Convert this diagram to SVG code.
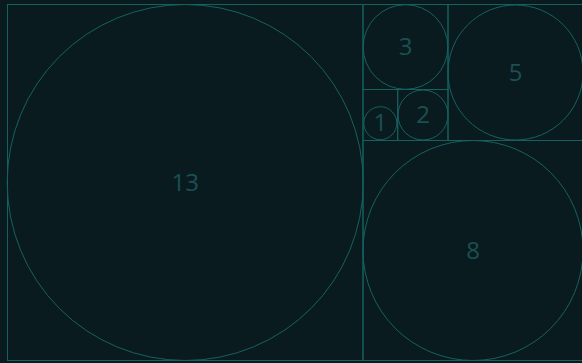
<svg xmlns="http://www.w3.org/2000/svg" width="582" height="363" viewBox="0 0 582 363">
<style>
.sq{fill:none;stroke:#15615f;stroke-width:1}
.ci{fill:none;stroke:#15615f;stroke-width:1}
.lb{font-family:"Open Sans","Noto Sans",sans-serif;font-size:24px;fill:#1a5052;text-anchor:middle}
</style>
<rect width="582" height="363" fill="#0a1b1f"/>
<g id="n13"><rect class="sq" x="7.5" y="4.5" width="355.5" height="356"/><circle class="ci" cx="185.2" cy="182.5" r="178"/><text class="lb" x="185.2" y="190.5">13</text></g>
<g id="n8"><rect class="sq" x="363" y="140.5" width="220" height="220"/><circle class="ci" cx="473" cy="250.5" r="110"/><text class="lb" x="473" y="258.5">8</text></g>
<g id="n5"><rect class="sq" x="448" y="4.5" width="135" height="136"/><circle class="ci" cx="515.5" cy="72.5" r="67.5"/><text class="lb" x="515.5" y="80.5">5</text></g>
<g id="n3"><rect class="sq" x="363" y="4.5" width="85" height="85"/><circle class="ci" cx="405.5" cy="47" r="42.3"/><text class="lb" x="405.5" y="55">3</text></g>
<g id="n2"><rect class="sq" x="397.7" y="89.5" width="50.3" height="51"/><circle class="ci" cx="423" cy="115" r="25"/><text class="lb" x="423" y="123">2</text></g>
<g id="n1"><rect class="sq" x="363" y="89.5" width="34.7" height="51"/><circle class="ci" cx="380.3" cy="123.2" r="16.5"/><text class="lb" x="380.3" y="131.2">1</text></g>
<g id="connectors"></g>
</svg>
